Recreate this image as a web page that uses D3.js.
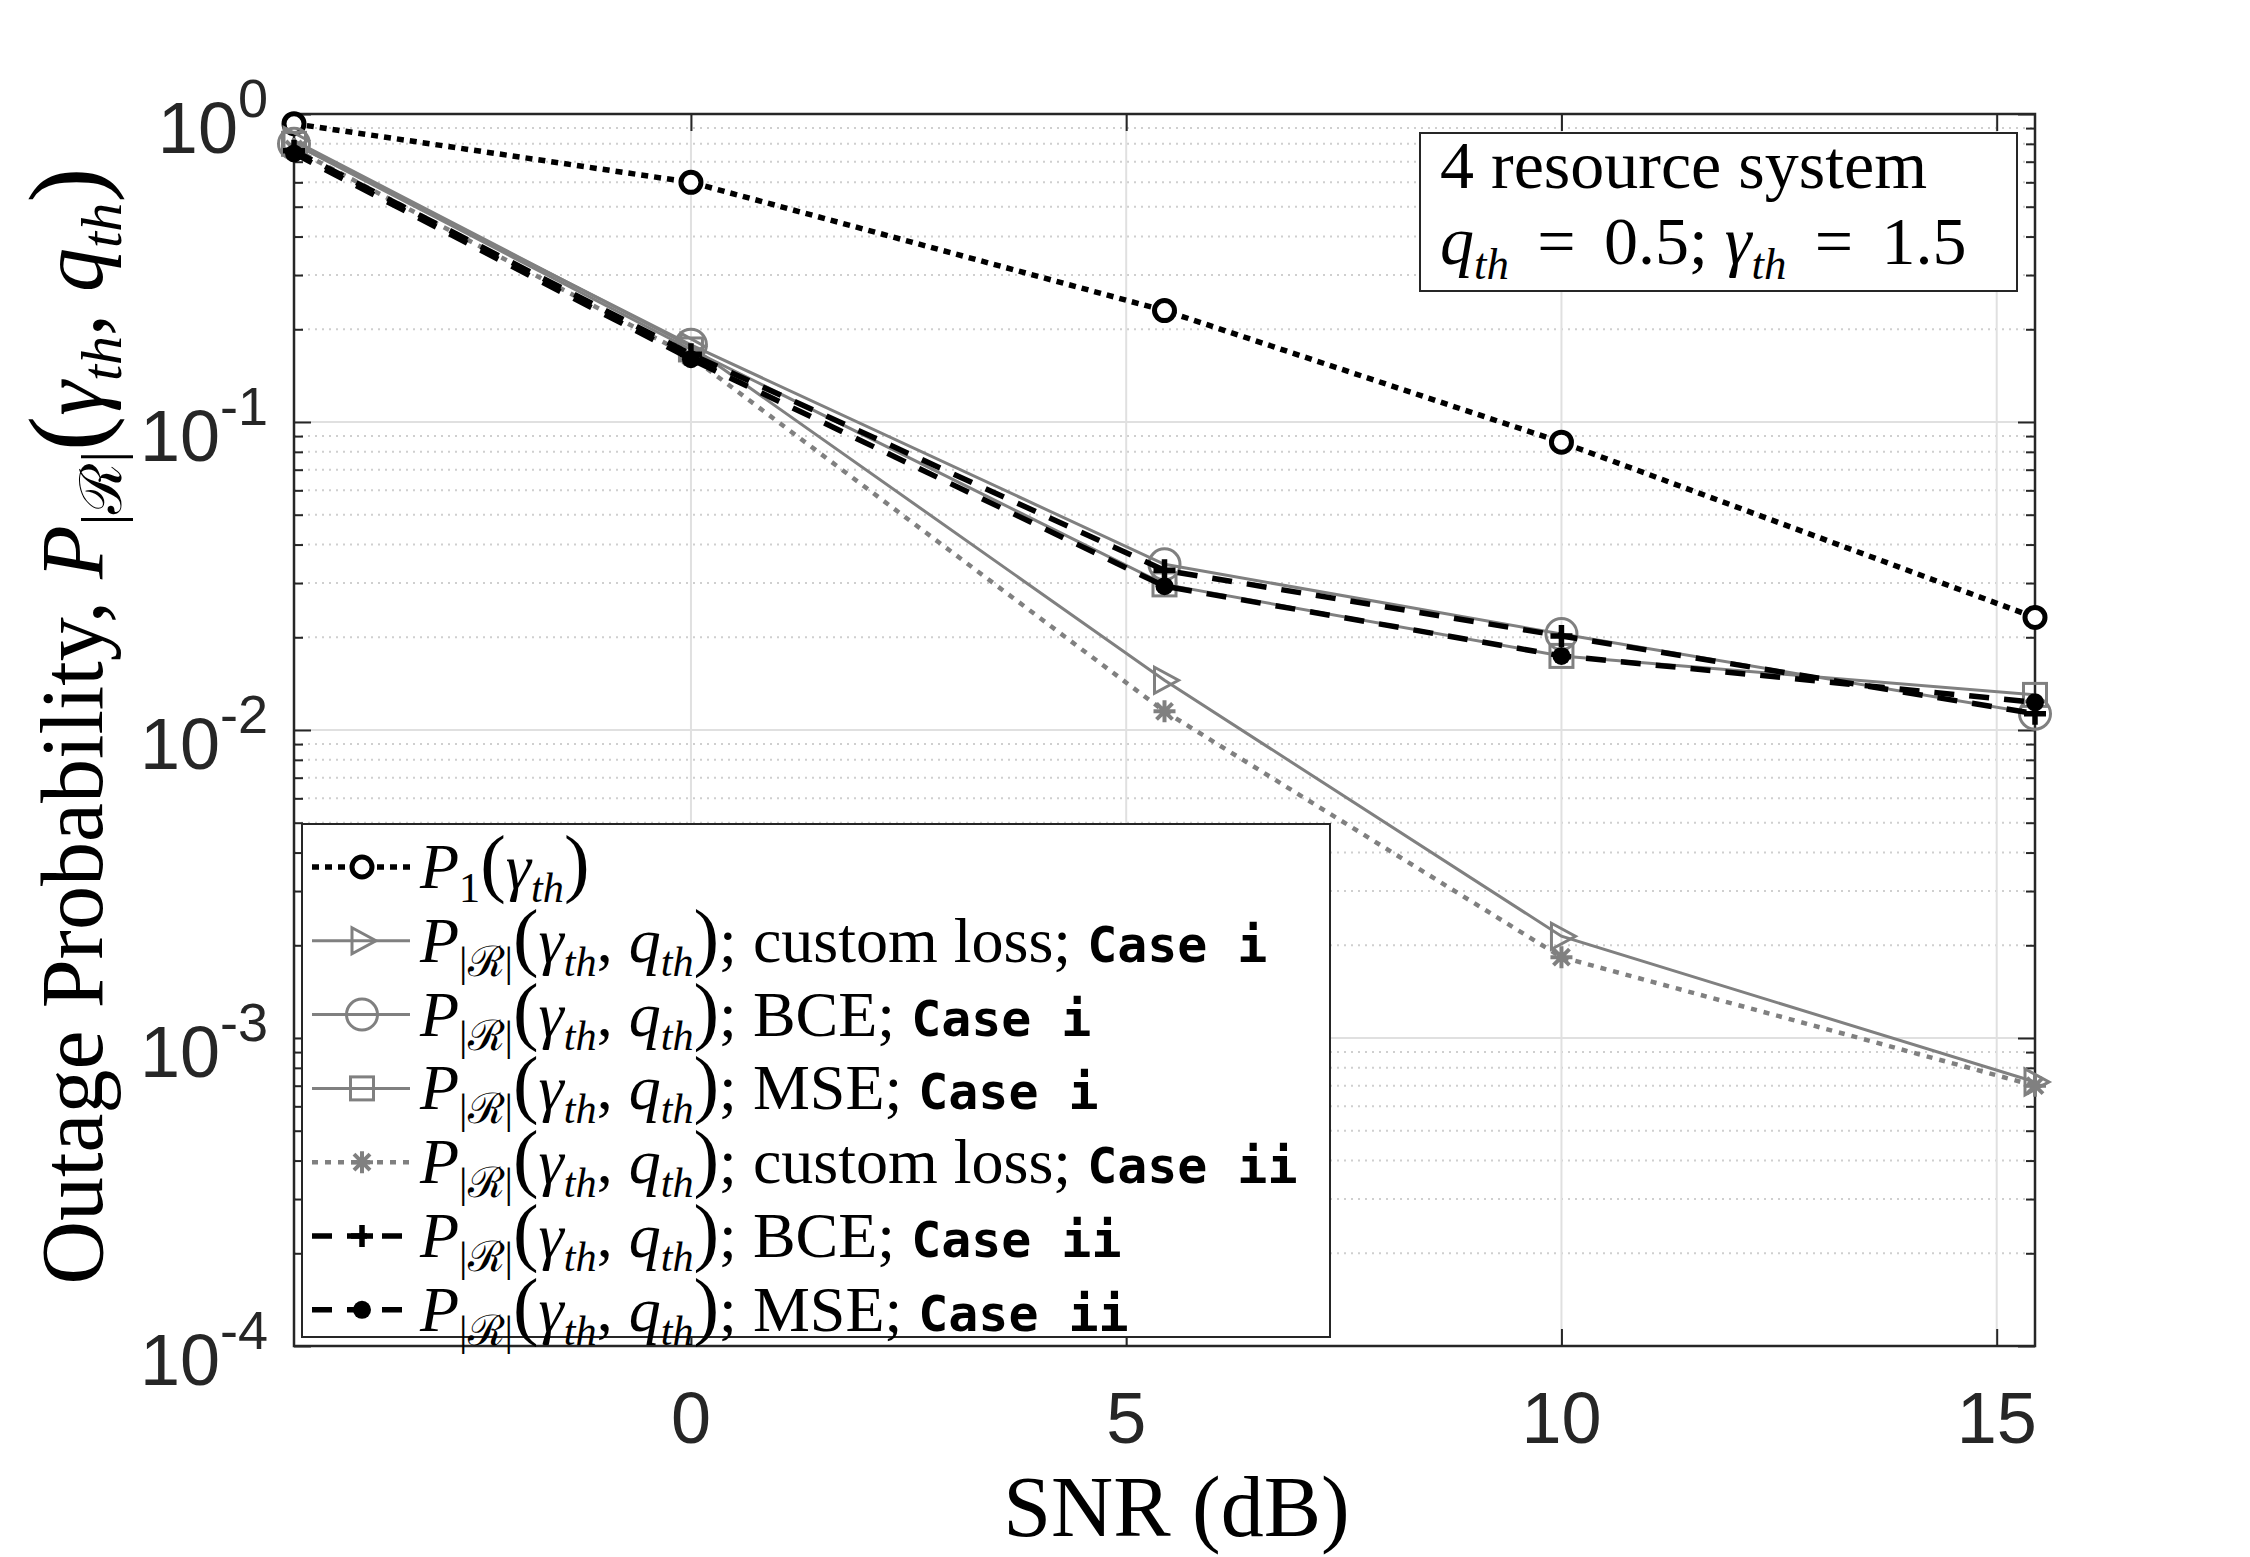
<head>
  <title>Outage probability vs SNR</title>
  <style>
    body { margin: 0; background: white; }
    svg text { white-space: pre; }
  </style>
</head>
<body>
  <div id="chart"></div>
  <script src="https://cdn.jsdelivr.net/npm/d3@7"></script>
  <script>
    // values
    const snrDb = [-4.56, 0, 5.44, 10, 15.44];
    const p1 = [0.93, 0.60, 0.23, 0.086, 0.0232];
    const customCaseI = [0.82, 0.176, 0.0145, 0.00214, 0.00072];
    const bceCaseI = [0.80, 0.178, 0.0345, 0.0205, 0.0113];
    const mseCaseI = [0.80, 0.172, 0.0297, 0.0174, 0.0130];
    const customCaseII = [0.77, 0.163, 0.0115, 0.00183, 0.00070];
    const bceCaseII = [0.76, 0.166, 0.033, 0.0202, 0.0113];
    const mseCaseII = [0.745, 0.160, 0.0293, 0.0174, 0.0123];

    const xTicks = [0, 5, 10, 15];
    const yDecades = [-4, -3, -2, -1, 0];
    const lossNames = ['custom loss', 'BCE', 'MSE', 'custom loss', 'BCE', 'MSE'];
    const caseNames = ['Case i', 'Case i', 'Case i', 'Case ii', 'Case ii', 'Case ii'];

    const W = 2250, H = 1557;
    const L = 294, R = 2035, T = 114, B = 1346;
    const SERIF = '"Liberation Serif", "DejaVu Serif", serif';
    const SANS = '"Liberation Sans", Arial, sans-serif';
    const MONO = '"DejaVu Sans Mono", "Liberation Mono", monospace';
    const GRAY = '#808080';
    const AX = '#262626';

    let svg = d3.select('#chart').append('svg')
      .attr('width', W).attr('height', H)
      .style('background', 'white');

    let x = d3.scaleLinear().domain([snrDb[0], snrDb[snrDb.length - 1]]).range([L, R]);
    let y = d3.scaleLog().domain([1e-4, 1]).range([B, T]);

    const minorY = y.ticks().filter(v => Math.abs(Math.log10(v) - Math.round(Math.log10(v))) > 1e-6);
    const majorY = yDecades.map(d => Math.pow(10, d));

    // grid
    let grid = svg.append('g');
    grid.selectAll('.minor').data(minorY).enter().append('line')
      .attr('x1', L).attr('x2', R).attr('y1', d => y(d)).attr('y2', d => y(d))
      .attr('stroke', '#cfcfcf').attr('stroke-width', 2).attr('stroke-dasharray', '2,5');
    grid.selectAll('.majy').data(majorY).enter().append('line')
      .attr('x1', L).attr('x2', R).attr('y1', d => y(d)).attr('y2', d => y(d))
      .attr('stroke', '#e0e0e0').attr('stroke-width', 2);
    grid.selectAll('.majx').data(xTicks).enter().append('line')
      .attr('y1', T).attr('y2', B).attr('x1', d => x(d)).attr('x2', d => x(d))
      .attr('stroke', '#e0e0e0').attr('stroke-width', 2);

    // axes (ticks pointing inward on all four sides)
    function styleAxis(g) {
      g.select('.domain').remove();
      g.selectAll('.tick line').attr('stroke', AX).attr('stroke-width', 2);
      g.selectAll('.tick text').remove();
    }
    svg.append('g').attr('transform', `translate(0,${B})`)
      .call(d3.axisBottom(x).tickValues(xTicks).tickSize(-17)).call(styleAxis);
    svg.append('g').attr('transform', `translate(0,${T})`)
      .call(d3.axisTop(x).tickValues(xTicks).tickSize(-17)).call(styleAxis);
    svg.append('g').attr('transform', `translate(${L},0)`)
      .call(d3.axisLeft(y).tickValues(majorY).tickSize(-17)).call(styleAxis);
    svg.append('g').attr('transform', `translate(${R},0)`)
      .call(d3.axisRight(y).tickValues(majorY).tickSize(-17)).call(styleAxis);
    svg.append('g').attr('transform', `translate(${L},0)`)
      .call(d3.axisLeft(y).tickValues(minorY).tickSize(-9)).call(styleAxis);
    svg.append('g').attr('transform', `translate(${R},0)`)
      .call(d3.axisRight(y).tickValues(minorY).tickSize(-9)).call(styleAxis);

    svg.append('rect').attr('x', L).attr('y', T).attr('width', R - L).attr('height', B - T)
      .attr('fill', 'none').attr('stroke', AX).attr('stroke-width', 2.5);

    // tick labels
    svg.selectAll('.xlab').data(xTicks).enter().append('text')
      .attr('x', d => x(d)).attr('y', B + 97)
      .attr('text-anchor', 'middle').attr('font-family', SANS).attr('font-size', 72)
      .attr('fill', AX).text(d => d);

    svg.selectAll('.ylab').data(yDecades).enter().append('text')
      .attr('x', 268).attr('y', d => y(Math.pow(10, d)) + 39)
      .attr('text-anchor', 'end').attr('font-family', SANS).attr('font-size', 72)
      .attr('fill', AX)
      .each(function(d) {
        let t = d3.select(this);
        t.append('tspan').text('10');
        t.append('tspan').attr('dy', -36).attr('font-size', 54).text(String(d));
      });

    // math-ish text made of tspans: flags i=italic, s=subscript, m=mono, p=big paren
    function mathText(g, px, py, fs, segs) {
      let t = g.append('text').attr('x', px).attr('y', py)
        .attr('font-size', fs).attr('font-family', SERIF).attr('fill', '#000');
      let cur = 0;
      segs.forEach(([s, f]) => {
        let sub = f.includes('s');
        let target = sub ? fs * 0.22 : 0;
        let ts = t.append('tspan').attr('dy', target - cur).text(s);
        cur = target;
        if (f.includes('i')) ts.attr('font-style', 'italic');
        if (sub) ts.attr('font-size', fs * 0.66);
        if (f.includes('p')) ts.attr('font-size', fs * 1.2);
        if (f.includes('m')) ts.attr('font-family', MONO).attr('font-weight', 'bold').attr('font-size', fs * 0.78);
      });
      return t;
    }
    const pRR = [['P', 'i'], ['|ℛ|', 's'], ['(', 'p'], ['γ', 'i'], ['th', 'is'], [', ', ''],
                 ['q', 'i'], ['th', 'is'], [')', 'p']];

    // series
    const series = [
      { v: p1, color: '#000', w: 5.5, dash: '7,6', mark: 'circleBold' },
      { v: customCaseI, color: GRAY, w: 3, dash: null, mark: 'triangle' },
      { v: bceCaseI, color: GRAY, w: 3, dash: null, mark: 'circle' },
      { v: mseCaseI, color: GRAY, w: 3, dash: null, mark: 'square' },
      { v: customCaseII, color: GRAY, w: 4.5, dash: '6,7', mark: 'asterisk' },
      { v: bceCaseII, color: '#000', w: 5.5, dash: '20,15', mark: 'plus' },
      { v: mseCaseII, color: '#000', w: 5.5, dash: '20,15', mark: 'dot' }
    ];

    function drawMarker(g, kind, cx, cy, color) {
      if (kind === 'circleBold')
        g.append('circle').attr('cx', cx).attr('cy', cy).attr('r', 10)
          .attr('fill', 'white').attr('stroke', color).attr('stroke-width', 5);
      else if (kind === 'circle')
        g.append('circle').attr('cx', cx).attr('cy', cy).attr('r', 15.5)
          .attr('fill', 'none').attr('stroke', color).attr('stroke-width', 3);
      else if (kind === 'square')
        g.append('rect').attr('x', cx - 11.5).attr('y', cy - 11.5).attr('width', 23).attr('height', 23)
          .attr('fill', 'none').attr('stroke', color).attr('stroke-width', 3);
      else if (kind === 'triangle')
        g.append('path').attr('d', `M${cx - 10},${cy - 13}L${cx + 14},${cy}L${cx - 10},${cy + 13}Z`)
          .attr('fill', 'none').attr('stroke', color).attr('stroke-width', 3);
      else if (kind === 'asterisk') {
        let s = 11, d = 8;
        g.append('path')
          .attr('d', `M${cx - s},${cy}H${cx + s}M${cx},${cy - s}V${cy + s}M${cx - d},${cy - d}L${cx + d},${cy + d}M${cx - d},${cy + d}L${cx + d},${cy - d}`)
          .attr('stroke', color).attr('stroke-width', 4);
      } else if (kind === 'plus') {
        let s = 11;
        g.append('path').attr('d', `M${cx - s},${cy}H${cx + s}M${cx},${cy - s}V${cy + s}`)
          .attr('stroke', color).attr('stroke-width', 5.5);
      } else if (kind === 'dot')
        g.append('circle').attr('cx', cx).attr('cy', cy).attr('r', 9).attr('fill', color);
    }

    let line = d3.line().x((d, i) => x(snrDb[i])).y(d => y(d));
    let plot = svg.append('g');
    series.forEach(s => {
      plot.append('path').attr('d', line(s.v))
        .attr('fill', 'none').attr('stroke', s.color).attr('stroke-width', s.w)
        .attr('stroke-dasharray', s.dash);
      s.v.forEach((v, i) => drawMarker(plot, s.mark, x(snrDb[i]), y(v), s.color));
    });

    // legend
    const legX = 302, legY = 824, legW = 1028, legH = 513, rowH = 73.8;
    let leg = svg.append('g');
    leg.append('rect').attr('x', legX).attr('y', legY).attr('width', legW).attr('height', legH)
      .attr('fill', 'white').attr('stroke', AX).attr('stroke-width', 2);
    series.forEach((s, i) => {
      let cy = legY + 43 + i * rowH;
      leg.append('line').attr('x1', legX + 10).attr('x2', legX + 108).attr('y1', cy).attr('y2', cy)
        .attr('stroke', s.color).attr('stroke-width', s.w).attr('stroke-dasharray', s.dash);
      drawMarker(leg, s.mark, legX + 60, cy, s.color);
      let segs;
      if (i === 0) segs = [['P', 'i'], ['1', 's'], ['(', 'p'], ['γ', 'i'], ['th', 'is'], [')', 'p']];
      else segs = pRR.concat([['; ' + lossNames[i - 1] + '; ', ''], [caseNames[i - 1], 'm']]);
      mathText(leg, legX + 118, cy + 21, 64, segs);
    });

    // annotation box
    svg.append('rect').attr('x', 1420).attr('y', 133).attr('width', 597).attr('height', 158)
      .attr('fill', 'white').attr('stroke', AX).attr('stroke-width', 2);
    mathText(svg, 1440, 188, 68, [['4 resource system', '']]);
    mathText(svg, 1440, 264, 68, [['q', 'i'], ['th', 'is'], ['\u2006 = \u20060.5; ', ''], ['γ', 'i'],
      ['th', 'is'], ['\u2006 = \u20061.5', '']]);

    // axis labels
    mathText(svg, 0, 0, 86, [['SNR (dB)', '']])
      .attr('x', (L + R) / 2 + 12).attr('y', 1536).attr('text-anchor', 'middle');
    mathText(svg, 0, 0, 88, [['Outage Probability, ', '']].concat(pRR))
      .attr('text-anchor', 'middle')
      .attr('transform', `translate(102,${(T + B) / 2 - 4}) rotate(-90)`);
  </script>
</body>
